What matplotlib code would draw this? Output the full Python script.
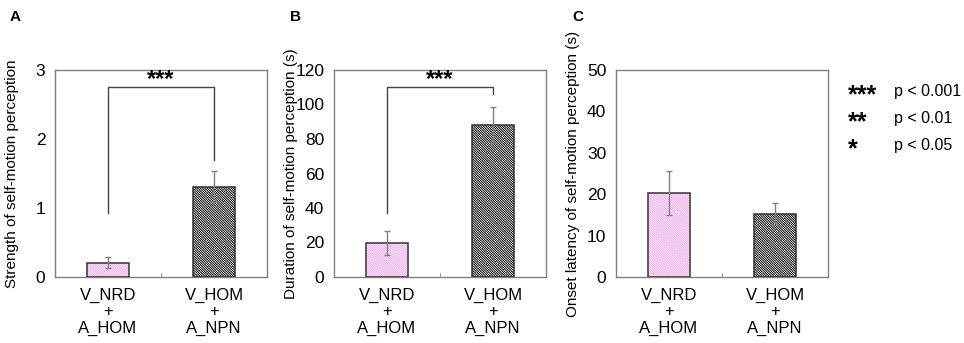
import numpy as np
import matplotlib.pyplot as plt
from matplotlib.ticker import FixedLocator

plt.rcParams['font.family'] = ['Liberation Sans', 'DejaVu Sans']
plt.rcParams['hatch.linewidth'] = 0.7

# Dados
cats = ['V_NRD\n+\nA_HOM', 'V_HOM\n+\nA_NPN']
strength = [0.21, 1.31]
strength_err = [0.075, 0.23]
duration = [19.7, 88.0]
duration_err = [6.7, 10.3]
onset = [20.3, 15.3]
onset_err = [5.4, 2.5]

ylabels = ['Strength of self-motion perception',
           'Duration of self-motion perception (s)',
           'Onset latency of self-motion perception (s)']
ylims = [3, 120, 50]
yticks = [np.arange(0, 4, 1), np.arange(0, 121, 20), np.arange(0, 51, 10)]
panel = ['A', 'B', 'C']
# colchete de significância: (topo, perna esquerda, perna direita)
brackets = [(2.75, 0.93, 1.70), (110, 37, 106), None]

sig_stars = ['***', '**', '*']
sig_text = ['p < 0.001', 'p < 0.01', 'p < 0.05']

fig = plt.figure(figsize=(9.64, 3.43), dpi=100)
lefts = [55 / 964, 334 / 964, 616 / 964]
data = [(strength, strength_err), (duration, duration_err), (onset, onset_err)]

grey = '#808080'
for i in range(3):
    ax = fig.add_axes([lefts[i], 66 / 343, 212 / 964, 207 / 343])
    vals, errs = data[i]
    x = np.arange(len(vals))
    hatch_colors = ['#f4a6f0', '#111111']
    for j in range(2):
        ax.bar(x[j], vals[j], width=0.4, color='white', edgecolor=hatch_colors[j],
               hatch='\\' * 14, linewidth=0, zorder=2)
        ax.bar(x[j], vals[j], width=0.4, color='none', edgecolor='#333333',
               linewidth=1.1, zorder=3)
    ax.errorbar(x, vals, yerr=errs, fmt='none', ecolor=grey, elinewidth=1,
                capsize=2, capthick=1, zorder=4)
    ax.set_xlim(-0.5, 1.5)
    ax.set_ylim(0, ylims[i])
    ax.set_yticks(yticks[i])
    ax.set_xticks(x)
    ax.set_xticklabels(cats, fontsize=12, linespacing=1.1)
    ax.xaxis.set_minor_locator(FixedLocator([0.5]))
    ax.tick_params(axis='x', which='major', length=0, pad=8)
    ax.tick_params(axis='x', which='minor', length=3, direction='in', color=grey)
    ax.tick_params(axis='y', length=0, labelsize=12.5, pad=7)
    for s in ax.spines.values():
        s.set_color(grey)
        s.set_linewidth(1)
    ax.set_ylabel(ylabels[i], fontsize=11)
    ax.yaxis.set_label_coords(-0.17, 0.5)

    b = brackets[i]
    if b is not None:
        top, l, r = b
        ax.plot([0, 0, 1, 1], [l, top, top, r], color='#444444', lw=1, zorder=5)
        ax.annotate('***', (0.5, top), xytext=(0, 1), textcoords='offset points',
                    ha='center', va='baseline', fontsize=17, fontweight='bold')

    fig.text(lefts[i] - 45 / 964 if i == 0 else lefts[i] - 44 / 964, 0.97,
             panel[i], fontsize=11, fontweight='bold', ha='left', va='top')

for k in range(3):
    yb = (96 + 27 * k) / 343
    fig.text(848 / 964, 1 - yb - 6 / 343, sig_stars[k], fontsize=18, fontweight='bold',
             ha='left', va='baseline')
    fig.text(894 / 964, 1 - yb, sig_text[k], fontsize=11.5, ha='left', va='baseline')

fig.savefig('out.png', dpi=100)
